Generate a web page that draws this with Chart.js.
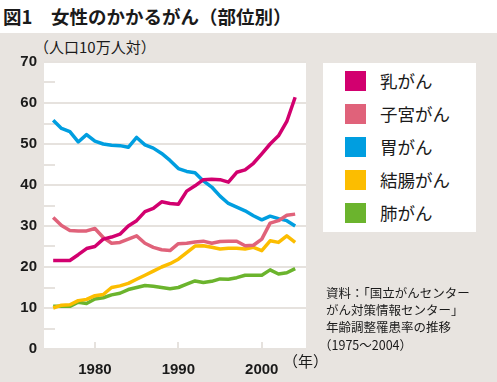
<!DOCTYPE html>
<html lang="ja">
<head>
<meta charset="utf-8">
<script src="https://cdn.jsdelivr.net/npm/chart.js@4"></script>
<style>
  body { margin: 0; }
  #wrap { position: relative; width: 497px; height: 382px; background: #fff; overflow: hidden;
          font-family: "Noto Sans CJK JP", sans-serif; color: #1a1a1a; }
  #panel { position: absolute; left: 0; top: 33px; width: 497px; height: 349px; background: #e8e4e0; }
  #title { position: absolute; left: 3px; top: 3px; font-size: 18.5px; font-weight: bold; line-height: 26px; white-space: nowrap; }
  #unit { position: absolute; left: 34px; top: 37px; font-size: 15px; line-height: 20px; white-space: nowrap; }
  #year { position: absolute; left: 283px; top: 351px; font-size: 15px; line-height: 20px; white-space: nowrap; }
  #chart { position: absolute; left: 0; top: 0; }
  #legend { position: absolute; left: 323px; top: 63px; width: 153px; height: 169px; background: #fff; }
  .item { position: absolute; left: 22px; height: 20px; white-space: nowrap; }
  .item i { position: absolute; left: 0; top: 0; width: 21px; height: 20px; }
  .item span { position: absolute; left: 35px; top: -3px; font-size: 17.5px; line-height: 26px; }
  #note { position: absolute; left: 326px; top: 284px; font-size: 12.5px; line-height: 17.2px; white-space: nowrap; }
  #note .p { margin-left: -7px; }
</style>
</head>
<body>
<div id="wrap">
  <div id="panel"></div>
  <div id="title">図1　女性のかかるがん（部位別）</div>
  <div id="unit">（人口10万人対）</div>
  <canvas id="chart" width="497" height="382"></canvas>
  <div id="year">（年）</div>
  <div id="legend"></div>
  <div id="note">資料：「国立がんセンター<br>がん対策情報センター」<br>年齢調整罹患率の推移<br><span class="p">（1975～2004）</span></div>
</div>
<script>
// years 1975 - 2004
var years = [];
for (var yr = 1975; yr <= 2004; yr++) years.push(yr);

var names = ['乳がん', '子宮がん', '胃がん', '結腸がん', '肺がん'];
var colors = ['#d2006f', '#e0627a', '#009ee0', '#fcbd00', '#6bb42d'];

var breast  = [21.6, 21.6, 21.6, 23.0, 24.5, 25.0, 26.8, 27.3, 28.0, 30.0, 31.3, 33.5, 34.3, 35.9, 35.5,
               35.3, 38.5, 39.8, 41.3, 41.4, 41.3, 40.7, 43.1, 43.7, 45.3, 47.6, 50.0, 52.0, 55.5, 61.4];
var uterus  = [32.1, 30.1, 28.9, 28.8, 28.8, 29.4, 27.2, 25.8, 26.0, 26.8, 27.6, 25.8, 24.8, 24.2, 24.0,
               25.7, 25.8, 26.1, 26.3, 25.8, 26.2, 26.3, 26.3, 25.2, 25.3, 26.8, 30.7, 31.3, 32.6, 32.9];
var stomach = [55.8, 53.8, 53.0, 50.5, 52.3, 50.7, 50.0, 49.7, 49.6, 49.2, 51.6, 49.8, 49.0, 47.7, 46.0,
               44.0, 43.3, 43.0, 41.0, 39.5, 37.3, 35.5, 34.6, 33.7, 32.5, 31.5, 32.4, 31.8, 31.3, 30.0];
var colon   = [10.0, 10.7, 10.8, 11.8, 12.1, 13.0, 13.3, 15.0, 15.4, 16.0, 17.0, 18.0, 19.0, 20.0, 20.8,
               21.9, 23.5, 25.1, 25.2, 24.8, 24.4, 24.6, 24.6, 24.4, 24.8, 24.0, 26.4, 26.0, 27.6, 26.0];
var lung    = [10.4, 10.4, 10.4, 11.4, 11.1, 12.2, 12.5, 13.2, 13.6, 14.5, 15.0, 15.5, 15.3, 15.0, 14.7,
               15.0, 15.8, 16.6, 16.2, 16.5, 17.1, 17.0, 17.4, 18.0, 18.0, 18.0, 19.3, 18.3, 18.6, 19.6];

var xTicks = [1980, 1990, 2000];
var yMinor = [5, 15, 25, 35, 45, 55, 65];
var gridColor = '#e6e2de';

// legend boxes
var legend = document.getElementById('legend');
names.forEach(function (n, i) {
    var d = document.createElement('div');
    d.className = 'item';
    d.style.top = (8 + i * 33) + 'px';
    d.innerHTML = '<i style="background:' + colors[i] + '"></i><span>' + n + '</span>';
    legend.appendChild(d);
});

var series = [breast, uterus, stomach, colon, lung];

var plotBg = {
    id: 'plotBg',
    beforeDraw: function (chart) {
        var a = chart.chartArea, ctx = chart.ctx;
        ctx.save();
        ctx.fillStyle = '#fff';
        ctx.fillRect(a.left, a.top, a.right - a.left, a.bottom - a.top);
        ctx.restore();
    },
    beforeDatasetsDraw: function (chart) {
        var a = chart.chartArea, ctx = chart.ctx;
        ctx.save();
        ctx.strokeStyle = gridColor;
        ctx.lineWidth = 2;
        ctx.beginPath();
        yMinor.forEach(function (v) {
            var py = Math.round(chart.scales.y.getPixelForValue(v));
            ctx.moveTo(a.left, py); ctx.lineTo(a.left + 11, py);
        });
        xTicks.forEach(function (v) {
            var px = Math.round(chart.scales.x.getPixelForValue(v));
            ctx.moveTo(px, a.bottom); ctx.lineTo(px, a.bottom - 7);
        });
        ctx.stroke();
        ctx.restore();
    }
};

var ctx = document.getElementById('chart').getContext('2d');
var chart = new Chart(ctx, {
    type: 'line',
    data: {
        labels: years,
        datasets: series.map(function (s, i) {
            return {
                label: names[i],
                data: s.map(function (v, j) { return {x: years[j], y: v}; }),
                borderColor: colors[i],
                backgroundColor: colors[i],
                borderWidth: 3.5,
                pointRadius: 0,
                tension: 0,
                borderJoinStyle: 'round'
            };
        })
    },
    options: {
        responsive: false,
        animation: false,
        layout: { padding: { left: 0, right: 191, top: 62, bottom: 0 } },
        plugins: { legend: { display: false }, tooltip: { enabled: false } },
        scales: {
            x: {
                type: 'linear',
                min: 1973.9,
                max: 2005.3,
                afterBuildTicks: function (s) { s.ticks = xTicks.map(function (v) { return {value: v}; }); },
                afterFit: function (s) { s.height = 33; },
                grid: { display: false },
                border: { display: false },
                ticks: {
                    padding: 4,
                    maxRotation: 0,
                    color: '#1a1a1a',
                    font: { family: 'Liberation Sans', size: 15, weight: 'bold' },
                    callback: function (v) { return String(v); }
                }
            },
            y: {
                min: 0,
                max: 70,
                afterFit: function (s) { s.width = 44; },
                grid: { color: gridColor, lineWidth: 2, drawTicks: false },
                border: { display: false },
                ticks: {
                    stepSize: 10,
                    padding: 7,
                    color: '#1a1a1a',
                    font: { family: 'Liberation Sans', size: 15, weight: 'bold' }
                }
            }
        }
    },
    plugins: [plotBg]
});
</script>
</body>
</html>
